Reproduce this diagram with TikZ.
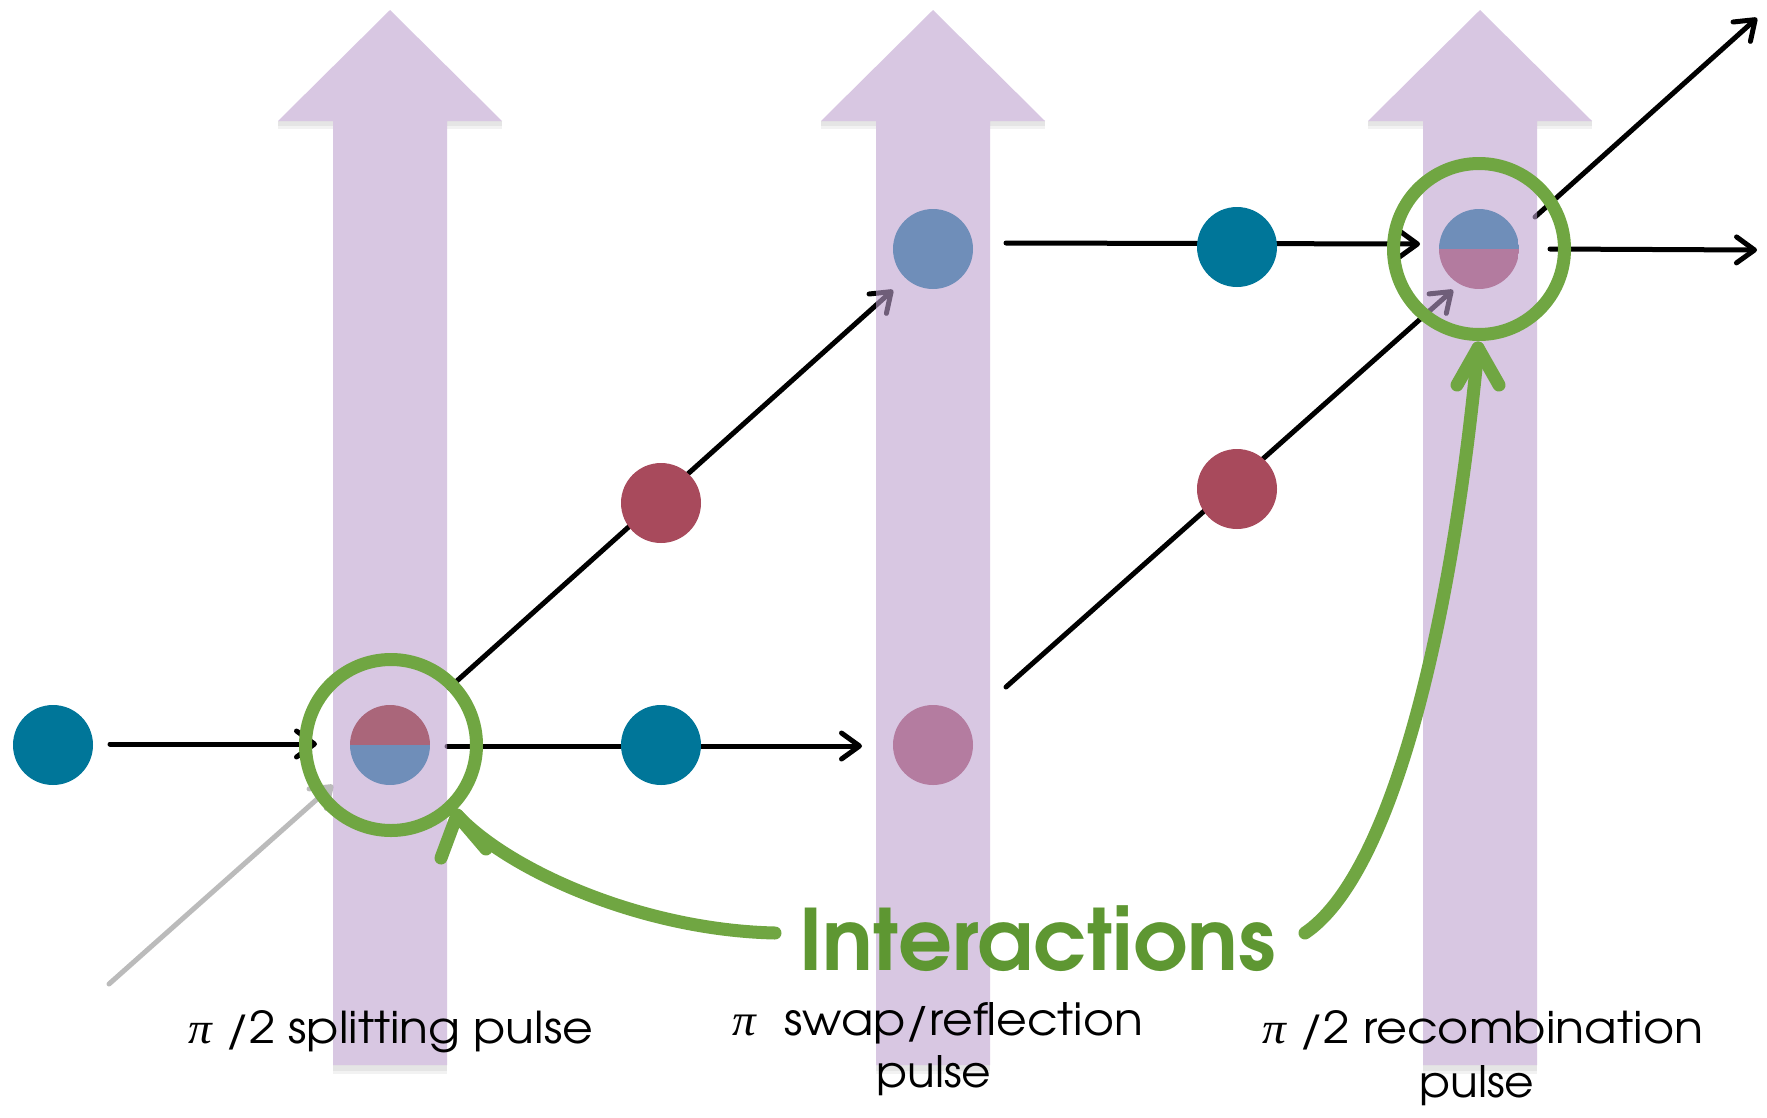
\documentclass[tikz,border=0pt]{standalone}
\usepackage{fontspec}
\setmainfont{TeX Gyre Adventor}
\newfontfamily\pifont{Liberation Serif}
\newcommand\mypi{{\pifont\itshape π}}
\usetikzlibrary{arrows.meta}
\definecolor{tealball}{HTML}{007699}
\definecolor{redball}{HTML}{A84A5C}
\definecolor{blueball}{HTML}{6F8EB9}
\definecolor{pinkball}{HTML}{B47CA0}
\definecolor{halfred}{HTML}{AA667A}
\definecolor{halfpink}{HTML}{B37B9F}
\definecolor{pulsecol}{RGB}{190,160,207}
\definecolor{ringgreen}{HTML}{70A642}
\definecolor{textgreen}{HTML}{5E9732}
\definecolor{lightgray1}{HTML}{BBBBBB}
\begin{document}
\begin{tikzpicture}[x=1pt,y=-1pt,
  ball/.style={circle, minimum size=80pt, inner sep=0pt, draw=none},
  ring/.style={circle, draw=ringgreen, line width=13pt, minimum size=171pt, inner sep=0pt},
  blk/.style={draw=black, line width=5pt, line cap=round, -{Straight Barb[length=18pt,width=26pt,round]}},
  gline/.style={draw=ringgreen, line width=13pt, line cap=round, line join=round},
  lbl/.style={inner sep=0pt, font=\fontsize{44}{50}\selectfont},
]
\fill[white] (0,0) rectangle (1767,1117);
\useasboundingbox (0,0) rectangle (1767,1117);

% connector end points
\coordinate (l1s) at (110,744);  \coordinate (l1e) at (317,744);
\coordinate (l2s) at (447,746);  \coordinate (l2e) at (862,746);
\coordinate (l3s) at (449,688);  \coordinate (l3e) at (893,290);
\coordinate (l4s) at (1006,243); \coordinate (l4e) at (1420,244);
\coordinate (l5s) at (1006,687); \coordinate (l5e) at (1453,290);
\coordinate (l6s) at (1535,217); \coordinate (l6e) at (1757,18);
\coordinate (l7s) at (1550,249); \coordinate (l7e) at (1757,250);
\coordinate (gs) at (109,984);   \coordinate (ge) at (333,785);

% black / gray connectors
\draw[blk] (l1s) -- (l1e);
\draw[blk] (l2s) -- (l2e);
\draw[blk] (l3s) -- (l3e);
\draw[blk] (l4s) -- (l4e);
\draw[blk] (l5s) -- (l5e);
\draw[blk] (l6s) -- (l6e);
\draw[blk] (l7s) -- (l7e);
\draw[blk, draw=lightgray1] (gs) -- (ge);

% pulse arrows
\foreach \cx in {390,933,1480} {
  \fill[black,opacity=0.10] (\cx-112,121) rectangle (\cx-57,126);
  \fill[black,opacity=0.10] (\cx+57,121) rectangle (\cx+112,126);
  \fill[black,opacity=0.10] (\cx-57,1065) rectangle (\cx+57,1071);
  \fill[black,opacity=0.05] (\cx-112,126) rectangle (\cx-57,129);
  \fill[black,opacity=0.05] (\cx+57,126) rectangle (\cx+112,129);
  \fill[black,opacity=0.05] (\cx-57,1071) rectangle (\cx+57,1074);
  \fill[pulsecol,opacity=0.59] (\cx-57,1065) -- (\cx-57,121) -- (\cx-112,121) -- (\cx,10)
     -- (\cx+112,121) -- (\cx+57,121) -- (\cx+57,1065) -- cycle;
}

% balls
\node[ball, fill=tealball] (b1) at (53,745) {};
\node[ball, path picture={
   \fill[halfred] (path picture bounding box.north west) rectangle (path picture bounding box.east);
   \fill[blueball] (path picture bounding box.west) rectangle (path picture bounding box.south east);}] (split) at (390,745) {};
\node[ball, fill=redball] (r1) at (661,503) {};
\node[ball, fill=tealball] (b2) at (661,745) {};
\node[ball, fill=blueball] (u1) at (933,249) {};
\node[ball, fill=pinkball] (p1) at (933,745) {};
\node[ball, fill=tealball] (b3) at (1237,247) {};
\node[ball, fill=redball] (r2) at (1237,489) {};
\node[ball, path picture={
   \fill[blueball] (path picture bounding box.north west) rectangle (path picture bounding box.east);
   \fill[halfpink] (path picture bounding box.west) rectangle (path picture bounding box.south east);}] (recomb) at (1479,249) {};

% green rings
\node[ring] (ringA) at (391,745) {};
\node[ring] (ringB) at (1479,249) {};

% Interactions label
\node[anchor=base west, inner sep=0pt, text=textgreen, font=\bfseries\fontsize{88}{90}\selectfont] (inter) at (799,970) {\resizebox{476pt}{!}{Interactions}};

% green curved arrows
\coordinate (g1s) at (775,933);
\coordinate (g1t) at (457,815);
\coordinate (g1a) at (441,858);
\coordinate (g1b) at (486,849);
\draw[gline] (g1s) .. controls (640,930) and (507,869) .. (g1t);
\draw[gline] (g1a) -- (g1t) -- (g1b);

\coordinate (g2s) at (1305,933);
\coordinate (g2t) at (1478,348);
\coordinate (g2a) at (1457,385);
\coordinate (g2b) at (1499,385);
\draw[gline] (g2s) .. controls (1388,877) and (1450,643) .. (g2t);
\draw[gline] (g2a) -- (g2t) -- (g2b);

% pulse labels
\node[lbl, anchor=base west] (lab1) at (188,1043) {\resizebox{405pt}{33pt}{\mypi\ /2 splitting pulse}};
\node[lbl, anchor=base west] (lab2a) at (732,1035) {\resizebox{411pt}{33pt}{\mypi\hspace{0.6em}swap/reflection}};
\node[lbl, anchor=base] (lab2b) at (934,1087) {\resizebox{115pt}{32pt}{pulse}};
\node[lbl, anchor=base west] (lab3a) at (1262,1043) {\resizebox{441pt}{33pt}{\mypi\ /2 recombination}};
\node[lbl, anchor=base] (lab3b) at (1477,1097) {\resizebox{115pt}{32pt}{pulse}};
\end{tikzpicture}
\end{document}
